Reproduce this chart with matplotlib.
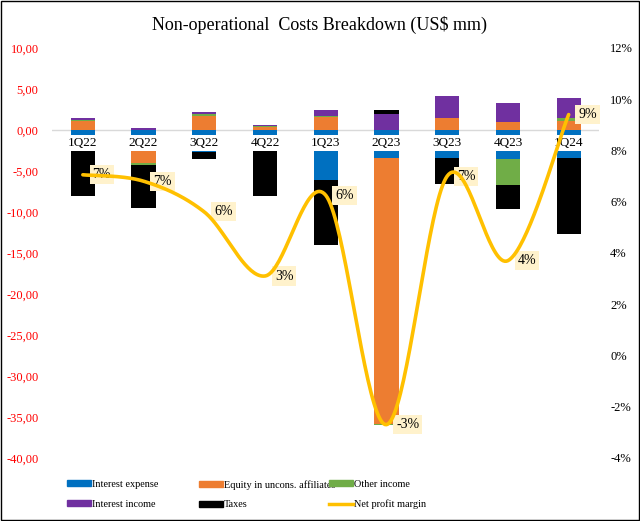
import numpy as np
import matplotlib
matplotlib.use('Agg')
from matplotlib import pyplot as plt
from matplotlib.patches import Patch, Rectangle
from matplotlib.lines import Line2D

plt.rcParams['font.family'] = ['Liberation Serif', 'DejaVu Serif']

quarters = ['1Q22', '2Q22', '3Q22', '4Q22', '1Q23', '2Q23', '3Q23', '4Q23', '1Q24']
interest_expense = [-2.6, -2.6, -2.7, -2.6, -6.1, -3.4, -3.4, -3.5, -3.4]
equity_affiliates = [1.1, -1.4, 1.7, 0.4, 1.55, -32.45, 1.45, 0.95, 1.1]
other_income = [0.1, -0.3, 0.2, 0.12, 0.15, -0.1, 0.0, -3.2, 0.3]
interest_income = [0.25, 0.2, 0.25, 0.12, 0.7, 1.9, 2.7, 2.3, 2.55]
taxes = [-5.5, -5.2, -0.85, -5.5, -7.9, 0.5, -3.2, -2.9, -9.3]
net_margin = [7.05, 6.8, 5.6, 3.1, 6.25, -2.7, 7.0, 3.7, 9.4]

series = [('Interest expense', interest_expense, '#0070C0'),
          ('Equity in uncons. affiliates', equity_affiliates, '#ED7D31'),
          ('Other income', other_income, '#70AD47'),
          ('Interest income', interest_income, '#7030A0'),
          ('Taxes', taxes, '#000000')]
line_color = '#FFC000'


def smooth(xs, ys, n=40):
    # excel style smoothed line (bezier through the points)
    xs = np.asarray(xs, float)
    ys = np.asarray(ys, float)
    px, py = [], []
    for i in range(len(xs) - 1):
        x0, y0 = xs[i], ys[i]
        x3, y3 = xs[i + 1], ys[i + 1]
        xm, ym = (xs[i - 1], ys[i - 1]) if i > 0 else (x0, y0)
        xp, yp = (xs[i + 2], ys[i + 2]) if i + 2 < len(xs) else (x3, y3)
        x1, y1 = x0 + (x3 - xm) / 6, y0 + (y3 - ym) / 6
        x2, y2 = x3 - (xp - x0) / 6, y3 - (yp - y0) / 6
        t = np.linspace(0, 1, n)
        a, b, c, d = (1 - t) ** 3, 3 * t * (1 - t) ** 2, 3 * t ** 2 * (1 - t), t ** 3
        px.extend(a * x0 + b * x1 + c * x2 + d * x3)
        py.extend(a * y0 + b * y1 + c * y2 + d * y3)
    return np.array(px), np.array(py)


fig = plt.figure(figsize=(6.4, 5.21), dpi=100)
ax = fig.add_axes([0.082, 0.121, 0.854, 0.787])
ind = np.arange(len(quarters))
width = 0.4

pos_base = np.zeros(len(quarters))
neg_base = np.zeros(len(quarters))
for name, vals, col in series:
    vals = np.array(vals)
    bottoms = np.where(vals >= 0, pos_base, neg_base)
    ax.bar(ind, vals, width, bottom=bottoms, color=col, zorder=2)
    pos_base = pos_base + np.where(vals >= 0, vals, 0)
    neg_base = neg_base + np.where(vals < 0, vals, 0)

ax.axhline(0, color='#d9d9d9', lw=1, zorder=1)
for i, q in enumerate(quarters):
    ax.text(i, -1.65, q, ha='center', va='center', fontsize=9.5, zorder=3,
            bbox=dict(fc='white', ec='none', pad=1.4))

ax.set_xlim(-0.5, len(quarters) - 0.5)
ax.set_ylim(-40, 10)
yt = np.arange(-40, 11, 5)
ax.set_yticks(yt)
ax.set_yticklabels([('%.2f' % v).replace('.', ',') for v in yt], color='#FF0000', fontsize=9)
ax.set_xticks([])
ax.tick_params(axis='y', length=0, pad=10)
for s in ax.spines.values():
    s.set_visible(False)

ax2 = ax.twinx()
lx, ly = smooth(ind, net_margin)
ax2.plot(lx, ly, color=line_color, lw=2.6, solid_capstyle='round', zorder=4)
for i, v in enumerate(net_margin):
    ax2.annotate('%d%%' % round(v), (i, v), xytext=(7, 0), textcoords='offset points',
                 ha='left', va='center', fontsize=10,
                 bbox=dict(fc='#FFF2CC', ec='none', pad=2.2))
ax2.set_ylim(-4, 12)
pt = np.arange(-4, 13, 2)
ax2.set_yticks(pt)
ax2.set_yticklabels(['%d%%' % v for v in pt], fontsize=9)
ax2.tick_params(axis='y', length=0, pad=8)
for s in ax2.spines.values():
    s.set_visible(False)

fig.text(0.5, 0.953, 'Non-operational  Costs Breakdown (US$ mm)', ha='center', va='center', fontsize=13)

# legend, three columns placed like the excel one
handles = [Patch(color=c) for _, _, c in series] + [Line2D([], [], color=line_color, lw=2.5)]
labels = [n for n, _, _ in series] + ['Net profit margin']
cols = [[0, 3], [1, 4], [2, 5]]
xs = [0.105, 0.311, 0.514]
for x, idx in zip(xs, cols):
    fig.legend([handles[k] for k in idx], [labels[k] for k in idx], loc='upper left',
               bbox_to_anchor=(x, 0.079), frameon=False, fontsize=7.4,
               handlelength=2.3, handleheight=0.5, handletextpad=0.15, labelspacing=1.05,
               borderpad=0, borderaxespad=0)

fig.patches.append(Rectangle((0.001, 0.001), 0.997, 0.997, transform=fig.transFigure,
                             fill=False, ec='black', lw=1))

fig.savefig('out.png', dpi=100)
